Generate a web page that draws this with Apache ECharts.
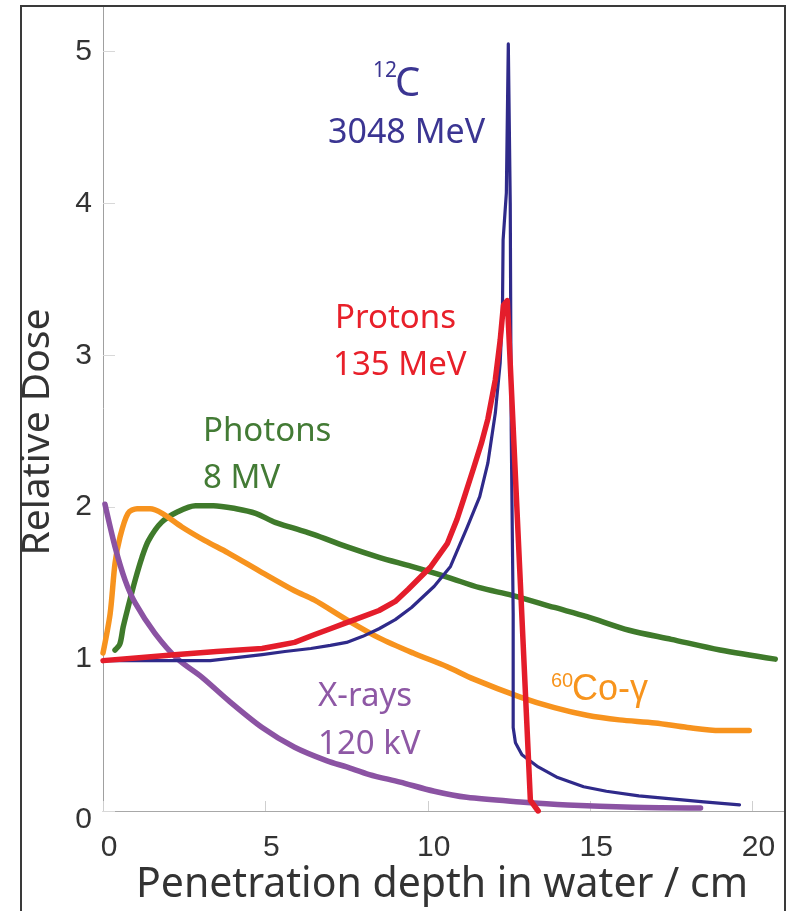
<!DOCTYPE html>
<html>
<head>
<meta charset="utf-8">
<script src="https://cdn.jsdelivr.net/npm/echarts@6/dist/echarts.min.js"></script>
<style>
  html, body { margin: 0; padding: 0; background: #fff; }
  #chart { width: 787px; height: 911px; }
</style>
</head>
<body>
<div id="chart"></div>
<script>
// Depth-dose curves in water (depth in cm, dose relative to entrance)
const xTicks = [0, 5, 10, 15, 20];
const yTicks = [0, 1, 2, 3, 4, 5];

const carbonDepth = [0, 1.5, 2.4, 3.3, 4.1, 4.9, 5.6, 6.4, 7.0, 7.5, 8.0, 8.5, 9.0, 9.5, 10.2, 10.7, 11.2, 11.6, 11.85, 12.08, 12.23, 12.3, 12.32, 12.42, 12.48, 12.54, 12.57, 12.63, 12.63, 12.7, 12.9, 13.4, 14.0, 14.8, 15.5, 16.5, 17.5, 18.5, 19.6];
const carbonDose  = [0.99, 0.99, 0.99, 0.99, 1.01, 1.03, 1.05, 1.07, 1.09, 1.11, 1.15, 1.20, 1.26, 1.34, 1.48, 1.61, 1.86, 2.07, 2.29, 2.62, 2.95, 3.3, 3.76, 4.07, 5.05, 4.0, 2.5, 1.3, 0.55, 0.45, 0.37, 0.29, 0.22, 0.16, 0.13, 0.10, 0.08, 0.06, 0.04];

const protonDepth = [0, 1.2, 2.3, 3.5, 4.9, 5.4, 5.9, 6.5, 7.0, 7.5, 8.0, 8.5, 9.0, 9.4, 10.1, 10.6, 10.9, 11.1, 11.4, 11.65, 11.85, 12.08, 12.23, 12.33, 12.45, 13.16, 13.4];
const protonDose  = [0.99, 1.01, 1.03, 1.05, 1.07, 1.09, 1.11, 1.16, 1.20, 1.24, 1.28, 1.32, 1.38, 1.46, 1.61, 1.76, 1.92, 2.05, 2.25, 2.42, 2.58, 2.84, 3.10, 3.33, 3.36, 0.07, 0.0];

const photonDepth = [0.37, 0.52, 0.62, 0.77, 0.99, 1.2, 1.4, 1.8, 2.3, 2.85, 3.4, 4.1, 4.7, 5.3, 5.9, 6.5, 7.5, 8.5, 9.5, 10.6, 11.6, 12.6, 13.9, 14.9, 16.2, 17.5, 19.0, 20.7];
const photonDose  = [1.06, 1.10, 1.21, 1.34, 1.52, 1.67, 1.78, 1.90, 1.97, 2.01, 2.01, 1.99, 1.96, 1.90, 1.86, 1.82, 1.74, 1.67, 1.61, 1.54, 1.47, 1.42, 1.34, 1.28, 1.19, 1.13, 1.06, 1.00];

const cobaltDepth = [0, 0.22, 0.37, 0.52, 0.77, 1.05, 1.45, 1.82, 2.43, 3.14, 3.85, 4.9, 5.9, 6.5, 7.5, 8.5, 9.55, 10.6, 11.4, 12.85, 13.9, 14.9, 15.9, 17.0, 18.0, 19.0, 19.9];
const cobaltDose  = [1.04, 1.30, 1.63, 1.80, 1.96, 1.99, 1.99, 1.96, 1.87, 1.78, 1.70, 1.57, 1.45, 1.39, 1.26, 1.14, 1.04, 0.95, 0.87, 0.75, 0.68, 0.63, 0.60, 0.58, 0.55, 0.53, 0.53];

const xrayDepth = [0.06, 0.37, 0.68, 0.99, 1.6, 2.3, 3.05, 3.85, 4.9, 5.9, 6.9, 7.5, 8.2, 9.15, 10.2, 11.2, 12.85, 14.3, 16.3, 18.4];
const xrayDose  = [2.02, 1.74, 1.52, 1.37, 1.17, 1.0, 0.88, 0.73, 0.55, 0.42, 0.33, 0.29, 0.24, 0.19, 0.13, 0.09, 0.06, 0.04, 0.025, 0.02];

const COLORS = {
  carbon: '#2f2a8a',
  proton: '#e41d2b',
  photon: '#3f7a2b',
  cobalt: '#f7931e',
  xray:   '#8b53a3'
};

const zip = (xs, ys) => xs.map((x, i) => [x, ys[i]]);

function curve(name, xs, ys, color, width, smooth, z) {
  return {
    name, type: 'line', data: zip(xs, ys),
    showSymbol: false, smooth: smooth, z: z,
    lineStyle: { color: color, width: width, cap: 'round', join: 'round' },
    emphasis: { disabled: true }, animation: false
  };
}

const SANS = '"Noto Sans", sans-serif';
const ARIAL = '"Liberation Sans", Arial, sans-serif';

function label(text, x, y, size, color, family) {
  return {
    type: 'text', x: x, y: y, z: 100,
    style: {
      text: text, fill: color, fontSize: size, fontFamily: family || SANS,
      textAlign: 'left', textVerticalAlign: 'middle'
    }
  };
}

const chart = echarts.init(document.getElementById('chart'), null, { renderer: 'canvas' });

chart.setOption({
  backgroundColor: '#fff',
  animation: false,
  grid: { left: 103, right: 2, top: 6, bottom: 100 },
  xAxis: {
    type: 'value', min: 0, max: 21,
    axisLine: { show: true, lineStyle: { color: '#a8a8a8', width: 1 } },
    axisTick: { show: true, inside: true, length: 10, customValues: xTicks, lineStyle: { color: '#cfcfcf' } },
    axisLabel: { customValues: xTicks, fontSize: 30, fontFamily: ARIAL, color: '#333', margin: 22, padding: [0, 0, 0, 12] },
    splitLine: { show: false }
  },
  yAxis: {
    type: 'value', min: 0, max: 5.3,
    axisLine: { show: true, lineStyle: { color: '#a0a0a0', width: 1 } },
    axisTick: { show: true, inside: true, length: 12, customValues: yTicks, lineStyle: { color: '#d8d8d8' } },
    axisLabel: {
      customValues: yTicks, fontSize: 30, fontFamily: ARIAL, color: '#333', margin: 11,
      formatter: v => (v === 0 ? '{low|0}' : String(v)),
      rich: { low: { fontSize: 30, fontFamily: ARIAL, color: '#333', padding: [18, 0, 0, 0] } }
    },
    splitLine: { show: false }
  },
  series: [
    curve('Photons 8 MV', photonDepth, photonDose, COLORS.photon, 5.5, 0.3, 2),
    curve('60Co-γ', cobaltDepth, cobaltDose, COLORS.cobalt, 5.5, 0.3, 3),
    curve('X-rays 120 kV', xrayDepth, xrayDose, COLORS.xray, 5.5, 0.3, 4),
    curve('12C 3048 MeV', carbonDepth, carbonDose, COLORS.carbon, 3.2, false, 5),
    curve('Protons 135 MeV', protonDepth, protonDose, COLORS.proton, 5.5, false, 6)
  ],
  graphic: [
    {
      type: 'polyline', z: 50, silent: true,
      shape: { points: [[21, 911], [21, 6], [785, 6], [785, 911]] },
      style: { stroke: '#3a3a3a', lineWidth: 2, fill: null }
    },
    // Axis titles
    {
      type: 'text', x: 442, y: 885, z: 100,
      style: { text: 'Penetration depth in water / cm', fill: '#333', fontSize: 41, fontFamily: SANS, textAlign: 'center', textVerticalAlign: 'middle' }
    },
    {
      type: 'text', x: 38, y: 432, rotation: Math.PI / 2, z: 100,
      style: { text: 'Relative Dose', fill: '#333', fontSize: 39, fontFamily: SANS, textAlign: 'center', textVerticalAlign: 'middle' }
    },
    // Curve annotations
    label('12', 373, 71, 21, '#3b3592'),
    label('C', 395, 85, 40, '#3b3592'),
    label('3048 MeV', 328, 133, 34, '#3b3592'),
    label('Protons', 335, 319, 33, '#e8202a'),
    label('135 MeV', 333, 366, 33, '#e8202a'),
    label('Photons', 203, 432, 33, '#437b35'),
    label('8 MV', 203, 479, 33, '#437b35'),
    label('X-rays', 318, 697, 33, '#8e58a5'),
    label('120 kV', 318, 745, 33, '#8e58a5'),
    label('60', 551, 681, 20, '#f7941d', ARIAL),
    label('Co-γ', 572, 690, 36, '#f7941d', ARIAL)
  ]
});
</script>
</body>
</html>
